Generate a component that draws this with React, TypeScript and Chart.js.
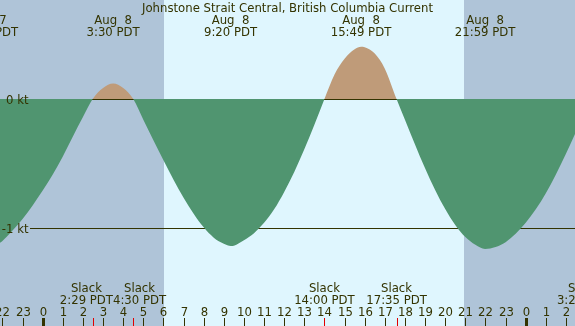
import React, { useEffect, useRef } from "react";
import { Chart, registerables } from "chart.js";

Chart.register(...registerables);

const TITLE = "Johnstone Strait Central, British Columbia Current";

// Current curve (hours from Aug 8 00:00 PDT, knots; + = flood, - = ebb)
const curveHours = [
  -3.0, -2.72, -2.5, -2.0, -1.5, -1.0, -0.5, 0.0, 0.5, 1.0, 1.5, 2.0, 2.483,
  3.0, 3.5, 4.0, 4.5,
  5.0, 5.5, 6.0, 6.5, 7.0, 7.5, 8.0, 8.5, 9.0, 9.35, 9.5, 10.0, 10.5, 11.0, 11.5, 12.0, 12.5, 13.0, 13.5, 14.0,
  14.5, 15.0, 15.5, 15.82, 16.0, 16.5, 17.0, 17.583,
  18.0, 18.5, 19.0, 19.5, 20.0, 20.5, 21.0, 21.5, 21.98, 22.5, 23.0, 23.5, 24.0, 24.5, 25.0, 25.5, 26.0, 26.5, 27.0, 27.33,
];
const curveKnots = [
  -1.145, -1.15, -1.145, -1.1, -1.02, -0.93, -0.825, -0.71, -0.585, -0.445, -0.29, -0.14, 0,
  0.085, 0.12, 0.085, 0,
  -0.16, -0.32, -0.475, -0.625, -0.765, -0.89, -0.995, -1.075, -1.122, -1.14, -1.137, -1.095, -1.04, -0.96, -0.855, -0.72, -0.565, -0.39, -0.2, 0,
  0.19, 0.312, 0.385, 0.405, 0.402, 0.352, 0.235, 0,
  -0.16, -0.352, -0.537, -0.705, -0.853, -0.977, -1.07, -1.13, -1.163, -1.148, -1.11, -1.045, -0.96, -0.855, -0.73, -0.585, -0.425, -0.255, -0.085, 0,
];

// Hour ticks along the bottom
const hourTicks = [-2, -1, 0, 1, 2, 3, 4, 5, 6, 7, 8, 9, 10, 11, 12, 13, 14, 15, 16, 17, 18, 19, 20, 21, 22, 23, 24, 25, 26];
const midnightHours = [0, 24];

// Daylight interval
const dayStartHours = [6.03];
const dayEndHours = [20.93];

// Max flood / max ebb events (top labels)
const eventHours = [-2.72, 3.5, 9.333, 15.817, 21.983];
const eventDates = ["Aug  7", "Aug  8", "Aug  8", "Aug  8", "Aug  8"];
const eventTimes = ["21:17 PDT", "3:30 PDT", "9:20 PDT", "15:49 PDT", "21:59 PDT"];

// Slack events (bottom labels)
const slackHours = [2.483, 4.5, 14.0, 17.583, 27.333, 29.05];
const slackTimes = ["2:29 PDT", "4:30 PDT", "14:00 PDT", "17:35 PDT", "3:20 PDT", "5:03 PDT"];

// Level lines
const levelValues = [0, -1];
const levelLabels = ["0 kt", "-1 kt"];

const W = 575;
const H = 326;
const PX_PER_HOUR = 20.125;
const ZERO_X = 42.7;
const PX_PER_KT = 129;
const ZERO_Y = 99;

const FG = "#333300";
const NIGHT = "#afc4d8";
const DAY = "#dff6fe";
const EBB = "#509570";
const FLOOD = "#bf9b79";
const MARK = "#e00000";
const FONT = "11.7px 'DejaVu Sans'";

export default function App() {
  const ref = useRef<HTMLCanvasElement | null>(null);

  useEffect(() => {
    const canvas = ref.current;
    if (!canvas) return;

    const xMin = -ZERO_X / PX_PER_HOUR;
    const xMax = (W - ZERO_X) / PX_PER_HOUR;
    const yMax = ZERO_Y / PX_PER_KT;
    const yMin = yMax - H / PX_PER_KT;

    const decor = {
      id: "xtideDecor",
      beforeDraw(chart: any) {
        const { ctx, chartArea } = chart;
        const xs = chart.scales.x;
        ctx.save();
        ctx.fillStyle = NIGHT;
        ctx.fillRect(chartArea.left, chartArea.top, chartArea.right - chartArea.left, chartArea.bottom - chartArea.top);
        ctx.fillStyle = DAY;
        dayStartHours.forEach((s, i) => {
          const x0 = Math.round(xs.getPixelForValue(s));
          const x1 = Math.round(xs.getPixelForValue(dayEndHours[i]));
          ctx.fillRect(x0, chartArea.top, x1 - x0, chartArea.bottom - chartArea.top);
        });
        ctx.restore();
      },
      beforeDatasetsDraw(chart: any) {
        const { ctx, chartArea } = chart;
        const ys = chart.scales.y;
        ctx.save();
        ctx.fillStyle = FG;
        levelValues.forEach((v) => {
          const y = Math.round(ys.getPixelForValue(v));
          ctx.fillRect(30, y, chartArea.right - 30, 1);
        });
        ctx.restore();
      },
      afterDatasetsDraw(chart: any) {
        const { ctx, chartArea } = chart;
        const xs = chart.scales.x;
        const ys = chart.scales.y;
        ctx.save();
        ctx.font = FONT;
        ctx.fillStyle = FG;

        // level labels
        ctx.textAlign = "right";
        ctx.textBaseline = "alphabetic";
        levelValues.forEach((v, i) => {
          const y = Math.round(ys.getPixelForValue(v));
          ctx.fillText(levelLabels[i], 28.5, y + 5);
        });

        // title
        ctx.textAlign = "center";
        ctx.fillText(TITLE, (chartArea.left + chartArea.right) / 2, 12);

        // top event labels
        eventHours.forEach((h, i) => {
          const x = xs.getPixelForValue(h);
          ctx.fillText(eventDates[i], x, 23.75);
          ctx.fillText(eventTimes[i], x, 35.5);
        });

        // hour ticks + labels
        const tickTop = 318;
        const tickLen = chartArea.bottom - tickTop;
        hourTicks.forEach((h) => {
          const x = Math.round(xs.getPixelForValue(h));
          const label = String(((h % 24) + 24) % 24);
          ctx.fillText(label, x + 0.5, 315.5);
          ctx.fillRect(x, tickTop, 1, tickLen);
        });
        midnightHours.forEach((h) => {
          const x = Math.round(xs.getPixelForValue(h));
          ctx.fillRect(x - 1, tickTop, 3, tickLen);
        });

        // slack ticks
        ctx.fillStyle = MARK;
        slackHours.forEach((h) => {
          const x = Math.round(xs.getPixelForValue(h));
          ctx.fillRect(x, tickTop, 1, tickLen);
        });

        // slack labels, pushed apart where they overlap
        ctx.fillStyle = FG;
        const centers = slackHours.map((h) => xs.getPixelForValue(h));
        const widths = slackTimes.map((t) => Math.max(ctx.measureText(t).width, ctx.measureText("Slack").width));
        for (let i = 0; i + 1 < centers.length; i++) {
          const overlap = widths[i] / 2 + widths[i + 1] / 2 - (centers[i + 1] - centers[i]);
          if (overlap > 0) {
            centers[i] -= overlap / 2;
            centers[i + 1] += overlap / 2;
          }
        }
        centers.forEach((x, i) => {
          ctx.fillText("Slack", x, 292);
          ctx.fillText(slackTimes[i], x, 303.75);
        });
        ctx.restore();
      },
    };

    const chart = new Chart(canvas, {
      type: "line",
      data: {
        datasets: [
          {
            data: curveHours.map((h, i) => ({ x: h, y: curveKnots[i] })),
            borderWidth: 0,
            borderColor: "rgba(0,0,0,0)",
            pointRadius: 0,
            cubicInterpolationMode: "monotone",
            fill: { target: "origin", above: FLOOD, below: EBB },
          } as any,
        ],
      },
      options: {
        animation: false,
        responsive: false,
        maintainAspectRatio: false,
        devicePixelRatio: 1,
        layout: { padding: 0 },
        events: [],
        plugins: { legend: { display: false }, tooltip: { enabled: false }, title: { display: false } },
        scales: {
          x: { type: "linear", min: xMin, max: xMax, display: false },
          y: { type: "linear", min: yMin, max: yMax, display: false },
        },
      },
      plugins: [decor],
    });

    return () => chart.destroy();
  }, []);

  return (
    <div style={{ position: "fixed", left: 0, top: 0, width: W, height: H }}>
      <canvas ref={ref} width={W} height={H} style={{ display: "block", width: W, height: H }} />
    </div>
  );
}
